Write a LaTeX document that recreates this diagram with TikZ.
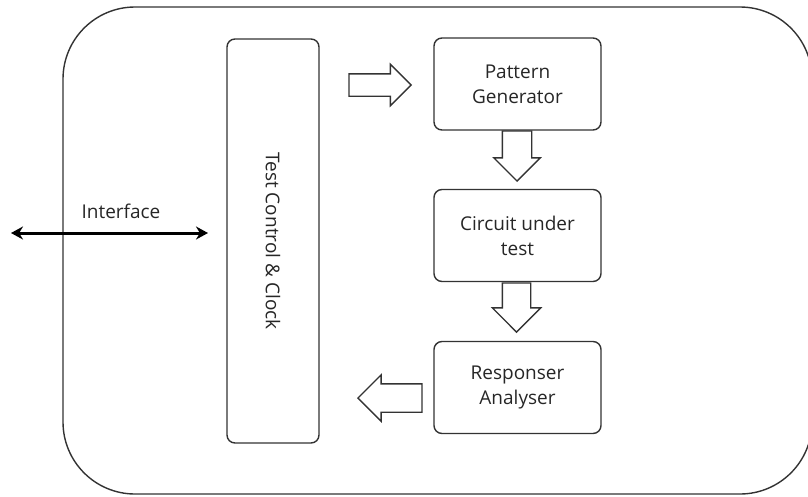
\documentclass[tikz,border=0pt]{standalone}
\usepackage{fontspec}
\setmainfont{Open Sans}
\usetikzlibrary{shapes.arrows,arrows.meta}
\begin{document}
\begin{tikzpicture}[x=1pt,y=-1pt,
  box/.style={draw=black!80,line width=1.4pt,rounded corners=8pt,align=center,
    text=black!85,font=\fontsize{19}{25}\selectfont},
  blockarrow/.style={single arrow,draw=black!80,line width=1.4pt,anchor=tip,
    single arrow tip angle=90,single arrow head indent=0pt}]
\useasboundingbox (0,0) rectangle (808,496);
\draw[line width=1.4pt,black!80,rounded corners=72pt] (63,7) rectangle (812,494);

\node[box,rotate=-90,minimum width=404pt,minimum height=92pt] (tcc) at (273,241) {Test Control \& Clock};
\node[box,minimum width=167pt,minimum height=92pt] (pg) at (517.5,84) {Pattern\\Generator};
\node[box,minimum width=167pt,minimum height=92pt] (cut) at (517.5,235.5) {Circuit under\\test};
\node[box,minimum width=167pt,minimum height=92pt] (ra) at (517.5,387.5) {Responser\\Analyser};

% block arrows, placed by their tips
\node[blockarrow,minimum height=62pt,inner sep=10.5pt,single arrow head extend=9.5pt] (a1) at (412,85) {};
\node[blockarrow,rotate=-90,minimum height=50pt,inner sep=14pt,single arrow head extend=8.5pt] (a2) at (517,182) {};
\node[blockarrow,rotate=-90,minimum height=49pt,inner sep=13.5pt,single arrow head extend=10pt] (a3) at (516.5,333) {};
\node[blockarrow,rotate=180,minimum height=64pt,inner sep=13.5pt,single arrow head extend=9pt] (a4) at (357,398) {};

\coordinate (ifL) at (11,233);
\coordinate (ifR) at (208,233);
\draw[line width=3pt,{Stealth[length=12pt,width=13pt]}-{Stealth[length=12pt,width=13pt]}] (ifL) -- (ifR);
\node[text=black!85,font=\fontsize{19}{25}\selectfont] (iflabel) at (121,211) {Interface};
\end{tikzpicture}
\end{document}
